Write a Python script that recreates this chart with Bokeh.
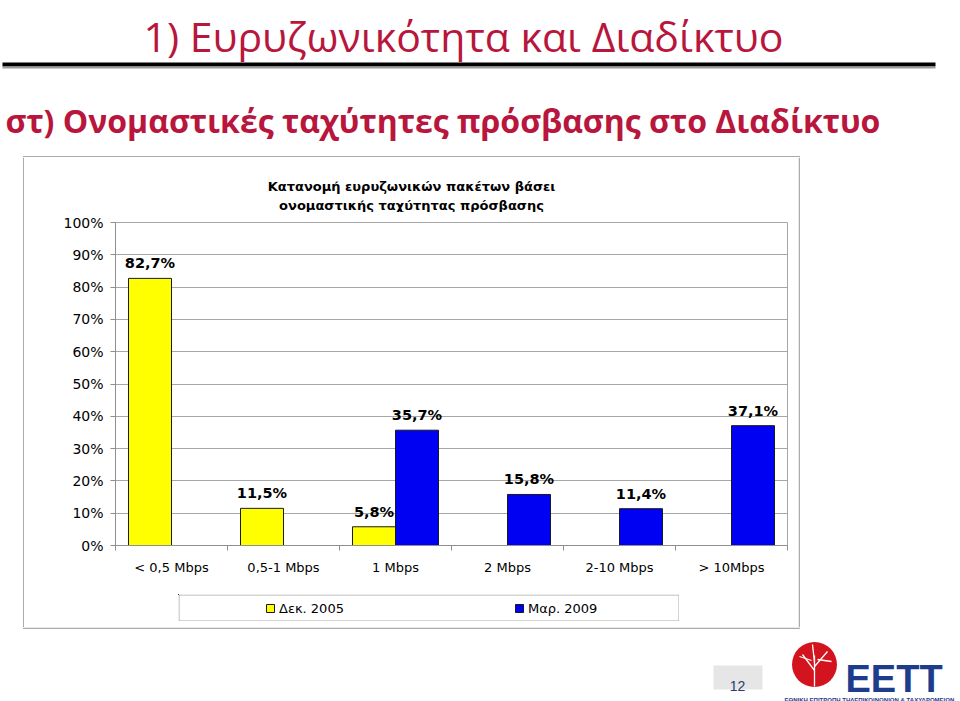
from bokeh.plotting import figure
from bokeh.models import (ColumnDataSource, Range1d, LinearAxis, FixedTicker, LabelSet,
                          Legend, LegendItem, Spacer)
from bokeh.layouts import column, row
from bokeh.core.properties import value
from bokeh.transform import dodge
from bokeh.embed import file_html
from bokeh.resources import INLINE

# ---------------- data ----------------
categories = ["< 0,5 Mbps", "0,5-1 Mbps", "1 Mbps", "2 Mbps", "2-10 Mbps", "> 10Mbps"]
series_names = ["Δεκ. 2005", "Μαρ. 2009"]
dec_2005 = [82.7, 11.5, 5.8, None, None, None]
mar_2009 = [None, None, 35.7, 15.8, 11.4, 37.1]
y_ticks = [0, 10, 20, 30, 40, 50, 60, 70, 80, 90, 100]
y_tick_labels = ["0%", "10%", "20%", "30%", "40%", "50%", "60%", "70%", "80%", "90%", "100%"]
slide_title = "1) Ευρυζωνικότητα και Διαδίκτυο"
slide_subtitle = "στ) Ονομαστικές ταχύτητες πρόσβασης στο Διαδίκτυο"
chart_title = ["Κατανομή ευρυζωνικών πακέτων βάσει", "ονομαστικής ταχύτητας πρόσβασης"]
page_number = "12"
logo_text = "ΕΕΤΤ"
logo_subtext = "ΕΘΝΙΚΗ ΕΠΙΤΡΟΠΗ ΤΗΛΕΠΙΚΟΙΝΩΝΙΩΝ & ΤΑΧΥΔΡΟΜΕΙΩΝ"

# ---------------- styles ----------------
RED = "#B8163C"
YELLOW = "#FFFF00"
BLUE = "#0000F2"
GRID = "#a6a6a6"
AXIS = "#8f8f8f"
BORDER = "#ababab"
NAVY = "#1E3C8C"
CHART_FONT = "DejaVu Sans"

# page regions (pixels): chart box 24..798 x 157..627
BOX_L, BOX_R, BOX_T, BOX_B = 24, 798, 157, 627
HEAD_B = 212          # chart head / chart figure boundary
CHART_B = 594         # chart figure / legend row boundary
LEG_B = 621           # legend row / foot boundary
LEG_L, LEG_R = 178, 679
FL, FR, FT, FB = 115, 787, 222, 545   # plot frame


def deco(x0, y0, w, h, bl=0, br=0):
    f = figure(width=w, height=h, x_range=Range1d(x0 + bl, x0 + w - br),
               y_range=Range1d(y0 + h, y0),
               min_border=0, min_border_left=bl, min_border_right=br,
               toolbar_location=None, output_backend="svg",
               x_axis_location=None, y_axis_location=None)
    f.title.visible = False
    f.grid.visible = False
    f.outline_line_color = None
    f.background_fill_color = "white"
    f.border_fill_color = "white"
    return f


def txt(f, s, x, y, size, color="black", bold=False, font="Open Sans", align="left"):
    f.text(x=[x], y=[y], text=[s], text_font=value(font), text_font_size=value(size),
           text_color=color, text_font_style="bold" if bold else "normal",
           text_align=align, text_baseline="alphabetic")


# ---------------- top: slide titles ----------------
top = deco(0, 0, 960, BOX_T)
txt(top, slide_title, 143, 35, "41px", RED)
top.quad(left=[2], right=[935], top=[62], bottom=[66], fill_color="black", line_color=None)
top.quad(left=[2], right=[935], top=[66], bottom=[68], fill_color="#9a9a9a", line_color=None)
txt(top, slide_subtitle, 5, 120, "32px", RED, bold=True)
# top edge of the chart box
top.quad(left=[BOX_L - 1.5], right=[BOX_R + 1.5], top=[BOX_T - 1.5], bottom=[BOX_T],
         fill_color=BORDER, line_color=None)

# ---------------- chart box sides ----------------
left_fig = deco(0, BOX_T, BOX_L, BOX_B - BOX_T)
left_fig.quad(left=[BOX_L - 1.5], right=[BOX_L], top=[BOX_T], bottom=[BOX_B],
              fill_color=BORDER, line_color=None)
right_fig = deco(BOX_R, BOX_T, 960 - BOX_R, BOX_B - BOX_T)
right_fig.quad(left=[BOX_R], right=[BOX_R + 1.5], top=[BOX_T], bottom=[BOX_B],
               fill_color=BORDER, line_color=None)

# chart head (title of the chart); borders match the chart frame
head = deco(BOX_L, BOX_T, BOX_R - BOX_L, HEAD_B - BOX_T, bl=FL - BOX_L, br=BOX_R - FR)
txt(head, chart_title[0], 411, 186, "13px", bold=True, font=CHART_FONT, align="center")
txt(head, chart_title[1], 411, 205, "13px", bold=True, font=CHART_FONT, align="center")

# ---------------- chart ----------------
n = len(categories)
chart = figure(width=BOX_R - BOX_L, height=CHART_B - HEAD_B,
               x_range=Range1d(0, n), y_range=Range1d(0, 100),
               output_backend="svg", toolbar_location=None,
               x_axis_location=None, y_axis_location=None,
               min_border_left=FL - BOX_L, min_border_right=BOX_R - FR,
               min_border_top=FT - HEAD_B, min_border_bottom=CHART_B - FB)
chart.title.visible = False
chart.background_fill_color = "white"
chart.border_fill_color = "white"
chart.outline_line_color = GRID
chart.outline_line_width = 1
chart.xgrid.visible = False
chart.ygrid.ticker = FixedTicker(ticks=y_ticks)
chart.ygrid.grid_line_color = GRID
chart.ygrid.grid_line_width = 1

yaxis = LinearAxis(ticker=FixedTicker(ticks=y_ticks),
                   major_label_overrides=dict(zip(y_ticks, y_tick_labels)),
                   axis_line_color=AXIS, major_tick_line_color=AXIS,
                   major_tick_out=5, major_tick_in=0, minor_tick_out=0, minor_tick_in=0,
                   major_label_standoff=7,
                   major_label_text_font=CHART_FONT, major_label_text_font_size="14px",
                   major_label_text_color="black")
chart.add_layout(yaxis, "left")

edges = list(range(n + 1))
tick_axis = LinearAxis(ticker=FixedTicker(ticks=edges),
                       major_label_overrides={e: "" for e in edges},
                       major_label_text_font_size="1px", major_label_standoff=0,
                       axis_line_color=AXIS, major_tick_line_color=AXIS,
                       major_tick_out=5, major_tick_in=0, minor_tick_out=0, minor_tick_in=0)
chart.add_layout(tick_axis, "below")

centers = [i + 0.5 for i in range(n)]
cat_axis = LinearAxis(ticker=FixedTicker(ticks=centers),
                      major_label_overrides=dict(zip(centers, categories)),
                      axis_line_color=None, major_tick_line_color=None,
                      major_tick_out=0, major_tick_in=0, minor_tick_out=0, minor_tick_in=0,
                      major_label_standoff=9,
                      major_label_text_font=CHART_FONT, major_label_text_font_size="13px",
                      major_label_text_color="black")
chart.add_layout(cat_axis, "below")

bw = 43 / 112
series = [(series_names[0], dec_2005, YELLOW, -bw / 2),
          (series_names[1], mar_2009, BLUE, bw / 2)]
sources = []
for name, vals, color, off in series:
    idx = [i + 0.5 for i, v in enumerate(vals) if v is not None]
    vs = [v for v in vals if v is not None]
    lab = [f"{v:.1f}".replace(".", ",") + "%" for v in vs]
    src = ColumnDataSource(dict(x=idx, val=vs, txt=lab))
    sources.append(src)
    chart.vbar(x=dodge("x", off), top="val", bottom=0, width=bw,
               source=src, fill_color=color, line_color="#1a1a1a", line_width=1)
    chart.add_layout(LabelSet(x=dodge("x", off), y="val", text="txt",
                              source=src, y_offset=10, text_align="center",
                              text_baseline="alphabetic", text_font=value(CHART_FONT),
                              text_font_style="bold", text_font_size=value("14.5px"),
                              text_color="black"))

# ---------------- legend row ----------------
leg = deco(LEG_L, CHART_B, LEG_R - LEG_L, LEG_B - CHART_B)
leg.quad(left=[LEG_L + 0.5], right=[LEG_R - 0.5], top=[CHART_B + 0.5], bottom=[LEG_B - 0.5],
         fill_alpha=0, line_color=BORDER, line_width=1)
items = []
for (name, vals, color, off), src in zip(series, sources):
    # same series, drawn in the legend strip's own coordinates (off-canvas); only its key shows
    r = leg.vbar(x="x", top="val", bottom=0, width=bw, source=src,
                 fill_color=color, line_color="#1a1a1a", line_width=1)
    items.append(LegendItem(label=name, renderers=[r]))
legend = Legend(items=items, orientation="horizontal", location=(265 - LEG_L, 3),
                spacing=170, padding=0, margin=0, glyph_width=10, glyph_height=10,
                label_standoff=4, label_height=20, label_text_font=CHART_FONT,
                label_text_font_size="13px", label_text_color="black",
                border_line_color=None, background_fill_alpha=0)
leg.add_layout(legend, "center")
leg_row = row(Spacer(width=LEG_L - BOX_L, height=LEG_B - CHART_B), leg,
              Spacer(width=BOX_R - LEG_R, height=LEG_B - CHART_B))

chart_col = column(head, chart, leg_row, Spacer(width=BOX_R - BOX_L, height=BOX_B - LEG_B))
middle = row(left_fig, chart_col, right_fig)

# ---------------- bottom: page number & logo ----------------
bottom = deco(0, BOX_B, 960, 701 - BOX_B)
bottom.quad(left=[BOX_L - 1.5], right=[BOX_R + 1.5], top=[BOX_B], bottom=[BOX_B + 1.5],
            fill_color=BORDER, line_color=None)
bottom.quad(left=[713], right=[762], top=[665], bottom=[689], fill_color="#e6e6e6", line_color=None)
txt(bottom, page_number, 737, 685, "14px", "#2a3a6e", font="Liberation Sans", align="center")
bottom.circle(x=[814], y=[664], radius=22.5, fill_color="#D3141E", line_color=None)
bottom.segment(x0=[814, 814, 814, 814, 811, 817], y0=[686, 670, 666, 662, 660, 659],
               x1=[814, 802, 827, 812, 799, 831], y1=[655, 654, 651, 644, 656, 661],
               line_color="white", line_width=1.3)
txt(bottom, logo_text, 845, 678, "38px", NAVY, bold=True, font="Liberation Sans")
txt(bottom, logo_subtext, 869, 699, "6px", NAVY, bold=True,
    font="Liberation Sans", align="center")

page = column(top, middle, bottom)
open("out.html", "w").write(file_html(page, INLINE))
